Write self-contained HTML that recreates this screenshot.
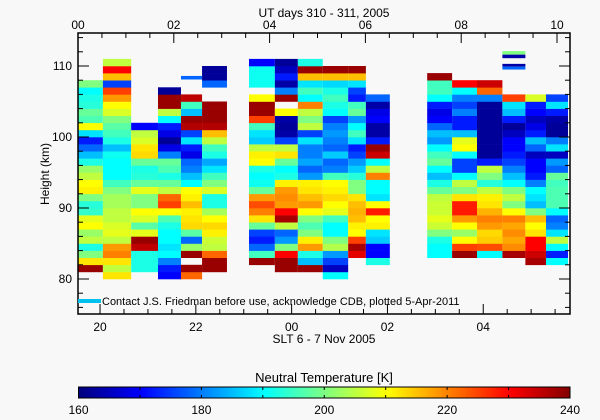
<!DOCTYPE html>
<html><head><meta charset="utf-8"><style>
html,body{margin:0;padding:0;background:#f8f8f8;}
svg{display:block;font-family:"Liberation Sans",sans-serif;}
</style></head><body>
<svg id="chart" width="600" height="420" viewBox="0 0 600 420" xmlns="http://www.w3.org/2000/svg">
<rect x="0" y="0" width="600" height="420" fill="#f8f8f8"/>
<g id="cells"></g>
<g id="axes"></g>
<text x="324" y="17" font-size="12" text-anchor="middle">UT days 310 - 311, 2005</text>
<text x="324" y="343" font-size="12" text-anchor="middle">SLT 6 - 7 Nov 2005</text>
<text transform="translate(49,174) rotate(-90)" font-size="12" text-anchor="middle">Height (km)</text>
<line x1="78" y1="301" x2="101" y2="301" stroke="#00c0f0" stroke-width="4"/>
<text x="102" y="305" font-size="11">Contact J.S. Friedman before use, acknowledge CDB, plotted 5-Apr-2011</text>
<text x="324" y="382" font-size="13" text-anchor="middle">Neutral Temperature [K]</text>
<g id="cbar"></g>
</svg>
<script>
// data
const colStart=[0,0.52,1.11,1.67,2.15,2.59,3.57,4.11,4.59,5.11,5.64,6.01,7.29,7.81,8.33,8.86,9.34,9.77];
const colEnd=[0.52,1.11,1.67,2.15,2.59,3.11,4.11,4.59,5.11,5.64,6.01,6.51,7.81,8.33,8.86,9.34,9.77,10.23];
const colBase=[81,80,81,80,80,81,82,81,81,80,83,82,83,83,83,83,82,82];
const t1=[238,212,200,192,205,202,210,208,194,193,200,211,210,205,202,192,185,178,172,188,210,196,198,193,192,190,200];
const t2=[212,205,212,220,218,205,208,207,205,205,203,203,200,195,190,190,190,191,185,192,195,197,200,207,210,218,225,175,215,230,205];
const t3=[192,192,192,235,238,208,197,207,210,200,200,208,198,193,192,198,213,212,207,205,170];
const t4=[170,172,180,190,188,190,190,192,196,210,225,222,205,198,192,196,198,180,168,162,168,172,190,205,238,238,162];
const t5=[222,238,null,238,202,178,197,213,212,211,215,211,210,190,185,180,178,168,172,188,175,236,238,185,195,235];
const t6=[238,238,222,205,206,211,213,210,203,192,192,207,200,195,188,183,192,195,205,215,236,238,238,238,null,null,178,162,162];
const t7=[238,195,178,172,175,198,212,220,224,218,198,191,190,192,210,211,205,186,188,195,225,238,238,210,null,191,191,191,170];
const t8=[238,238,230,200,182,178,205,237,230,218,219,218,211,192,190,198,212,205,175,163,162,163,210,null,238,180,163,172,165,162];
const t9=[238,185,192,218,211,200,196,200,210,218,215,212,211,182,178,183,180,180,188,175,205,200,205,220,190,195,188,215,238,192];
const t10=[190,165,175,182,204,200,190,190,195,208,210,213,211,210,195,180,178,186,178,180,182,180,175,190,192,195,192,187,215,238];
const t11=[232,237,225,210,211,215,216,215,212,200,200,193,186,182,175,172,188,195,190,182,198,195,172,175,188,215,238];
const t12=[192,170,170,186,188,211,210,228,210,188,190,190,220,205,190,234,238,172,163,163,170,168,163,178];
const t13=[190,190,192,200,206,208,206,206,205,198,192,185,190,198,195,190,182,185,178,170,168,172,190,195,195,238];
const t14=[238,225,210,202,210,218,228,228,212,200,205,190,175,175,190,210,208,185,172,172,180,175,180,190,230];
const t15=[190,224,214,213,218,220,216,212,211,205,193,200,205,172,162,162,162,162,162,162,162,162,180,222,234];
const t16=[237,219,217,219,217,220,210,200,205,200,190,185,180,175,172,170,170,165,162,172,185,188,225];
const t17=[237,234,230,230,212,210,215,200,185,188,190,180,172,170,170,165,178,185,172,168,165,170,172,207];
const t18=[190,172,190,205,188,180,178,190,196,196,196,195,198,178,182,165,188,180,162,162,163,172,188,175];
const columns=[t1,t2,t3,t4,t5,t6,t7,t8,t9,t10,t11,t12,t13,t14,t15,t16,t17,t18];
const extraT0=[2.15,8.86,8.86,8.86,8.86];
const extraT1=[2.59,9.34,9.34,9.34,9.34];
const extraH0=[108.1,111.6,111.1,109.9,109.5];
const extraH1=[108.6,112.1,111.6,110.3,109.9];
const extraTemp=[178,200,163,163,178];
const yTicks=[80,90,100,110];
const utLabels=["00","02","04","06","08","10"];
const utMajor=[0,2,4,6,8,10];
const sltLabels=["20","22","00","02","04"];
const sltOffset=19.54;
const cbTicks=[160,180,200,220,240];

const NS="http://www.w3.org/2000/svg";
const X0=78,X1=570,Y0=33,Y1=314;
function xs(h){return 78+h*47.9;}
function ys(k){return 66+(110-k)*7.1;}
function jet(T){
  let t=Math.max(0,Math.min(1,(T-160)/80));
  const c=v=>Math.round(255*Math.max(0,Math.min(1,v)));
  const r=c(1.5-Math.abs(4*t-3)),g=c(1.5-Math.abs(4*t-2)),b=c(1.5-Math.abs(4*t-1));
  return `rgb(${r},${g},${b})`;
}
function mk(tag,attrs,parent){const e=document.createElementNS(NS,tag);for(const k in attrs)e.setAttribute(k,attrs[k]);parent.appendChild(e);return e;}
const cells=document.getElementById('cells');
columns.forEach((vals,ci)=>{
  vals.forEach((v,i)=>{
    if(v===null)return;
    const h=colBase[ci]+i;
    const r=mk('rect',{x:xs(colStart[ci]),y:ys(h+1),width:xs(colEnd[ci])-xs(colStart[ci]),height:ys(h)-ys(h+1)+0.3,fill:jet(v)},cells);
    
    
  });
});
extraTemp.forEach((v,i)=>{
  const r=mk('rect',{x:xs(extraT0[i]),y:ys(extraH1[i]),width:xs(extraT1[i])-xs(extraT0[i]),height:ys(extraH0[i])-ys(extraH1[i]),fill:jet(v)},cells);
  
  
});
const ax=document.getElementById('axes');
const box=mk('rect',{x:X0,y:Y0,width:X1-X0,height:Y1-Y0,fill:'none',stroke:'#000','stroke-width':1.5},ax);


function ln(x1,y1,x2,y2,p){mk('line',{x1,y1,x2,y2,stroke:'#000','stroke-width':1},p);}
// y ticks
for(let k=76;k<=114;k+=2){
  const L=(k%10===0)?11:5;const y=ys(k);
  ln(X0,y,X0+L,y,ax);ln(X1,y,X1-L,y,ax);
}
yTicks.forEach(k=>{
  const t=mk('text',{x:72,y:ys(k)+4,'font-size':12,'text-anchor':'end'},ax);t.textContent=k;
  
  
});
// top ticks
for(let h=0;h<=10.25;h+=0.5){
  const L=(h%2===0)?10:5;ln(xs(h),Y0,xs(h),Y0+L,ax);
}
utMajor.forEach((h,i)=>{
  const t=mk('text',{x:xs(h),y:29,'font-size':12,'text-anchor':'middle'},ax);t.textContent=utLabels[i];
  
  
});
// bottom ticks (SLT)
for(let s=20;s<=30.5;s+=0.5){
  const h=s-sltOffset;if(h<0||h>10.28)continue;
  const L=(s%2===0)?10:5;ln(xs(h),Y1,xs(h),Y1-L,ax);
}
sltLabels.forEach((lab,i)=>{
  const h=20+2*i-sltOffset;
  const t=mk('text',{x:xs(h),y:331,'font-size':12,'text-anchor':'middle'},ax);t.textContent=lab;
  
  
});
// colorbar
const cb=document.getElementById('cbar');
const CB0=78.5,CB1=570,CBY=387,CBH=11;
for(let i=0;i<160;i++){
  const T=160+i*0.5;
  mk('rect',{x:CB0+(CB1-CB0)*i/160,y:CBY,width:(CB1-CB0)/160+0.5,height:CBH,fill:jet(T)},cb);
}
const cbf=mk('rect',{x:CB0,y:CBY,width:CB1-CB0,height:CBH,fill:'none',stroke:'#000','stroke-width':1},cb);


for(let T=170;T<240;T+=10){const x=CB0+(CB1-CB0)*(T-160)/80;ln(x,CBY,x,CBY+3,cb);ln(x,CBY+CBH,x,CBY+CBH-3,cb);}
cbTicks.forEach(T=>{
  const t=mk('text',{x:CB0+(CB1-CB0)*(T-160)/80,y:414,'font-size':12,'text-anchor':'middle'},cb);t.textContent=T;
  
  
});
</script>
</body></html>
